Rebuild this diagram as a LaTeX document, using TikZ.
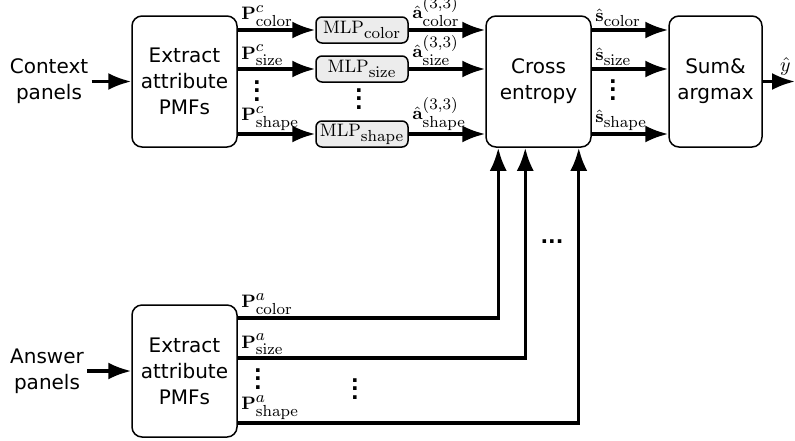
\documentclass[tikz,border=0pt]{standalone}
\usepackage{amsmath}
\usepackage[no-math]{fontspec}
\setmainfont{DejaVu Sans}
\usepackage{tikz}
\usetikzlibrary{arrows.meta, positioning, calc}
\DeclareMathSizes{9}{9}{8}{6}
\newcommand{\vdts}{\vbox{\baselineskip4.2pt\lineskiplimit0pt
  \hbox{\bfseries .}\hbox{\bfseries .}\hbox{\bfseries .}}}

\begin{document}
\begin{tikzpicture}[x=0.5pt,y=-0.5pt,
  arr/.style={-{Latex[length=11.5pt,width=8.5pt]}, line width=1.6pt},
  block/.style={draw, line width=0.75pt, rounded corners=5pt, align=center,
    minimum width=52.5pt, minimum height=65.5pt, inner sep=1pt,
    font=\fontsize{10}{13}\selectfont},
  mlp/.style={draw, line width=0.75pt, rounded corners=3pt, fill=gray!15,
    minimum width=46pt, minimum height=13pt, inner sep=0.5pt,
    font=\fontsize{9}{11}\selectfont},
  txt/.style={align=center, inner sep=1.5pt, font=\fontsize{10}{13}\selectfont},
  lbl/.style={anchor=south west, inner sep=1pt, font=\fontsize{9}{11}\selectfont},
  dots/.style={inner sep=0pt, font=\fontsize{10}{12}\selectfont}]

\useasboundingbox (0,0) rectangle (795,440);

% Context branch
\node[txt] (ctxin) at (49,81.5) {Context\\panels};
\node[block] (extc) at (184.5,81.5) {Extract\\attribute\\PMFs};
\node[mlp] (mlpc) at (362,30) {$\mathrm{MLP}_{\mathrm{color}}$};
\node[mlp] (mlps) at (362,69) {$\mathrm{MLP}_{\mathrm{size}}$};
\node[mlp] (mlph) at (362,134) {$\mathrm{MLP}_{\mathrm{shape}}$};
\node[block] (cross) at (538.5,81.5) {Cross\\entropy};
\node[block, minimum width=46.5pt] (summ) at (715.5,81.5) {Sum\&\\argmax};
\coordinate (yout) at (795,81.5);

\draw[arr] (ctxin) -- (extc);

% Attribute PMFs into the MLPs
\draw[arr] (extc.east |- mlpc) -- node[lbl,pos=0] (pcc) {$\mathbf{P}^c_{\mathrm{color}}$} (mlpc);
\draw[arr] (extc.east |- mlps) -- node[lbl,pos=0] (pcs) {$\mathbf{P}^c_{\mathrm{size}}$} (mlps);
\draw[arr] (extc.east |- mlph) -- node[lbl,pos=0] (pch) {$\mathbf{P}^c_{\mathrm{shape}}$} (mlph);

% MLP outputs
\draw[arr] (mlpc) -- node[lbl,pos=0] (acc) {$\hat{\mathbf{a}}^{(3,3)}_{\mathrm{color}}$} (cross.west |- mlpc);
\draw[arr] (mlps) -- node[lbl,pos=0] (acs) {$\hat{\mathbf{a}}^{(3,3)}_{\mathrm{size}}$} (cross.west |- mlps);
\draw[arr] (mlph) -- node[lbl,pos=0] (ach) {$\hat{\mathbf{a}}^{(3,3)}_{\mathrm{shape}}$} (cross.west |- mlph);

% Scores
\draw[arr] (cross.east |- mlpc) -- node[lbl,pos=0] (ssc) {$\hat{\mathbf{s}}_{\mathrm{color}}$} (summ.west |- mlpc);
\draw[arr] (cross.east |- mlps) -- node[lbl,pos=0] (sss) {$\hat{\mathbf{s}}_{\mathrm{size}}$} (summ.west |- mlps);
\draw[arr] (cross.east |- mlph) -- node[lbl,pos=0] (ssh) {$\hat{\mathbf{s}}_{\mathrm{shape}}$} (summ.west |- mlph);

\draw[arr] (summ) -- node[pos=0.7, above, inner sep=2.5pt, font=\fontsize{10}{12}\selectfont] (yh) {$\hat{y}$} (yout);

% Answer branch
\node[txt] (ansin) at (47,371) {Answer\\panels};
\node[block, minimum height=66pt] (exta) at (184.5,371) {Extract\\attribute\\PMFs};
\draw[arr] (ansin) -- (exta);

\coordinate (ya1) at (0,318);
\coordinate (ya2) at (0,358);
\coordinate (ya3) at (0,423);
\coordinate (ce1) at ([xshift=6.5pt]cross.south west);
\coordinate (ce2) at ([xshift=20pt]cross.south west);
\coordinate (ce3) at ([xshift=-6.5pt]cross.south east);

\draw[arr] (exta.east |- ya1) -| node[lbl,pos=0] (pac) {$\mathbf{P}^a_{\mathrm{color}}$} (ce1);
\draw[arr] (exta.east |- ya2) -| node[lbl,pos=0] (pas) {$\mathbf{P}^a_{\mathrm{size}}$} (ce2);
\draw[arr] (exta.east |- ya3) -| node[lbl,pos=0] (pah) {$\mathbf{P}^a_{\mathrm{shape}}$} (ce3);

% Dots
\node[dots] (vd1) at (257,91) {\vdts};
\node[dots] (vd2) at (359,99) {\vdts};
\node[dots] (vd3) at (613,90) {\vdts};
\node[dots] (vd4) at (258,379) {\vdts};
\node[dots] (vd5) at (355,389) {\vdts};
\node[inner sep=0pt] (hd) at (552,242) {\textbf{...}};

\end{tikzpicture}
\end{document}
